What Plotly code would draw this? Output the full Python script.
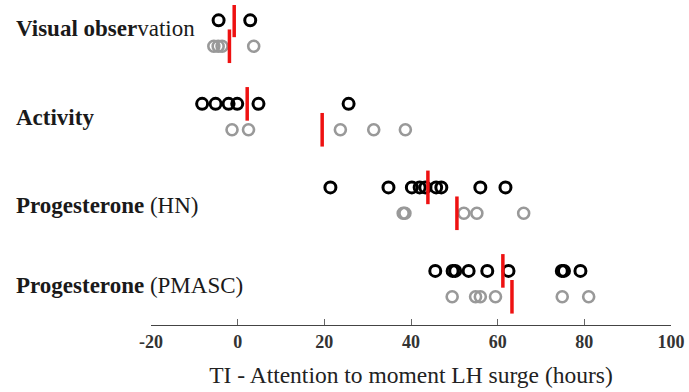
import plotly.graph_objects as go

# Row labels (bold part, regular part)
row_bold = ["Visual obser", "Activity", "Progesterone", "Progesterone"]
row_regular = ["vation", "", " (HN)", " (PMASC)"]
row_index = [3, 2, 1, 0]
label_shift = [0.06, -0.006, -0.06, -0.024]

# Black (first) series values per row (hours)
black_vals = [
    [-4.4, 2.9],
    [-8.2, -5.1, -2.1, -0.1, 4.8, 25.6],
    [21.4, 34.8, 40.2, 42.0, 43.3, 45.8, 47.0, 56.0, 61.8],
    [45.6, 49.6, 50.2, 53.3, 57.6, 62.5, 74.8, 75.3, 79.1],
]
black_means = [-0.8, 2.2, 43.9, 61.2]

# Grey (second) series values per row (hours)
grey_vals = [
    [-5.5, -4.5, -3.6, 3.7],
    [-1.3, 2.5, 23.7, 31.4, 38.7],
    [38.2, 38.6, 52.2, 55.2, 66.0],
    [49.5, 54.9, 56.0, 59.5, 74.9, 81.0],
]
grey_means = [-1.9, 19.5, 50.6, 63.3]

x_ticks = [-20, 0, 20, 40, 60, 80, 100]
x_title = "TI - Attention to moment LH surge (hours)"

OFF = 0.155
fig = go.Figure()

for r, vals in zip(row_index, black_vals):
    fig.add_trace(go.Scatter(
        x=vals, y=[r + OFF] * len(vals), mode="markers",
        marker=dict(symbol="circle-open", size=11, color="#000000",
                    line=dict(width=3, color="#000000")),
        showlegend=False, hoverinfo="x"))
for r, vals in zip(row_index, grey_vals):
    fig.add_trace(go.Scatter(
        x=vals, y=[r - OFF] * len(vals), mode="markers",
        marker=dict(symbol="circle-open", size=11, color="#999999",
                    line=dict(width=2.6, color="#999999")),
        showlegend=False, hoverinfo="x"))

# mean markers (red vertical bars)
fig.add_trace(go.Scatter(
    x=black_means + grey_means,
    y=[r + OFF for r in row_index] + [r - OFF for r in row_index],
    mode="markers",
    marker=dict(symbol="line-ns", size=24,
                line=dict(width=3.5, color="#ee1111")),
    showlegend=False, hoverinfo="x"))

annotations = []
for r, b, g, s in zip(row_index, row_bold, row_regular, label_shift):
    annotations.append(dict(
        xref="paper", yref="y", x=(14 - 151) / 520, y=r + s,
        xanchor="left", yanchor="middle", showarrow=False,
        text=f"<b>{b}</b>{g}",
        font=dict(family="Liberation Serif", size=23, color="#1a1a1a")))

fig.update_layout(
    width=689, height=392,
    margin=dict(l=151, r=18, t=5, b=67),
    paper_bgcolor="white", plot_bgcolor="white",
    annotations=annotations,
    xaxis=dict(
        range=[-20, 100], tickvals=x_ticks, ticktext=[str(t) for t in x_ticks],
        showgrid=False, zeroline=False, showline=True, linecolor="#444444",
        linewidth=1, ticks="inside", ticklen=6, tickcolor="#666666",
        tickfont=dict(family="Liberation Serif", size=18, color="#333333",
                      weight="bold"),
        title=dict(text=x_title, standoff=15,
                   font=dict(family="Liberation Serif", size=23.5, color="#222222")),
    ),
    yaxis=dict(range=[-0.493, 3.339], visible=False, showgrid=False,
               zeroline=False),
)

fig.write_html("out.html", config={"displayModeBar": False},
               post_script="document.body.style.margin='0';document.body.style.overflow='hidden';")
